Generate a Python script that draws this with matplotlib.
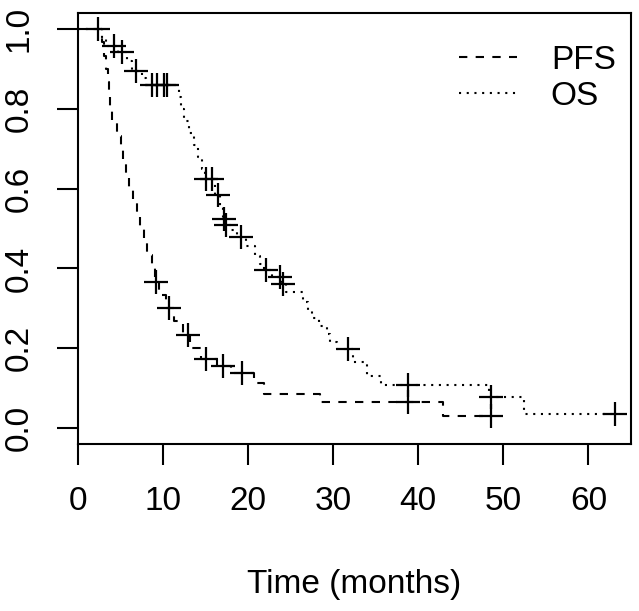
import numpy as np
import matplotlib
matplotlib.use("Agg")
import matplotlib.pyplot as plt

plt.rcParams['font.family'] = ['Liberation Sans', 'DejaVu Sans']

# ---- data ----
pfs_event_times = [2.8, 3.1, 3.3, 3.5, 3.6, 3.8, 4.0, 4.6, 5.0, 5.3, 5.6, 6.0, 6.5, 6.9,
                   7.3, 7.7, 8.1, 8.7, 9.0, 9.5, 10.3, 11.3, 12.3, 13.2, 14.4, 16.3,
                   18.0, 20.7, 21.9, 28.5, 42.9]
pfs_surv = [0.967, 0.933, 0.90, 0.867, 0.833, 0.80, 0.767, 0.733, 0.70, 0.667, 0.633,
            0.60, 0.567, 0.533, 0.50, 0.467, 0.433, 0.40, 0.367, 0.333, 0.30, 0.267,
            0.233, 0.20, 0.172, 0.155, 0.138, 0.113, 0.086, 0.064, 0.030]
pfs_censor = [9.2, 10.7, 12.9, 15.1, 17.1, 19.3, 38.75, 48.5]

os_event_times = [2.8, 3.3, 4.7, 5.8, 6.3, 7.5, 8.0, 11.9, 12.1, 12.5, 13.1, 13.6, 14.1,
                  14.6, 14.9, 16.1, 16.7, 17.0, 17.3, 18.0, 18.7, 19.8, 20.8, 21.4, 21.9,
                  22.8, 23.9, 24.5, 26.5, 27.0, 27.5, 28.3, 29.3, 29.6, 30.5, 32.3, 34.0,
                  35.6, 48.3, 52.4]
os_surv = [0.978, 0.957, 0.943, 0.92, 0.895, 0.877, 0.86, 0.83, 0.80, 0.77, 0.74, 0.71,
           0.68, 0.65, 0.625, 0.585, 0.555, 0.524, 0.51, 0.495, 0.478, 0.455, 0.43, 0.41,
           0.395, 0.378, 0.36, 0.34, 0.317, 0.295, 0.275, 0.255, 0.235, 0.215, 0.198,
           0.165, 0.13, 0.107, 0.078, 0.036]
os_censor = [2.3, 4.2, 5.2, 6.8, 8.7, 9.3, 10.1, 10.5, 15.0, 15.8, 16.4, 17.2, 17.45,
             19.2, 22.1, 23.7, 24.1, 31.7, 38.75, 48.5, 63.1]

labels = ["PFS", "OS"]
x_ticks = [0, 10, 20, 30, 40, 50, 60]
y_ticks = [0.0, 0.2, 0.4, 0.6, 0.8, 1.0]
x_label = "Time (months)"

W, H = 639, 611
fig = plt.figure(figsize=(W / 100, H / 100), dpi=100)
ax = fig.add_axes([78 / W, 1 - 444 / H, (631 - 78) / W, (444 - 13) / H])

LW = 1.5


def km_curve(times, surv, censor):
    t_end = max(max(times), max(censor))
    t = np.concatenate([[0.0], times, [t_end]])
    s = np.concatenate([[1.0], surv, [surv[-1]]])
    c = np.asarray(censor)
    idx = np.searchsorted(t, c, side='right') - 1
    return t, s, c, s[idx]


styles = [(0, (4, 4)), (0, (1, 2.7))]
handles = []
for (et, sv, cs), ls, lab in zip([(pfs_event_times, pfs_surv, pfs_censor),
                                  (os_event_times, os_surv, os_censor)], styles, labels):
    t, s, c, cy = km_curve(et, sv, cs)
    h, = ax.step(t, s, where='post', color='black', lw=LW, linestyle=ls, label=lab)
    ax.plot(c, cy, linestyle='none', marker='+', markersize=17, mew=1.6, color='black')
    handles.append(h)

ax.set_xlim(0, 65)
ax.set_ylim(-0.04, 1.04)
ax.set_xticks(x_ticks)
ax.set_yticks(y_ticks)
ax.set_xticklabels([str(v) for v in x_ticks])
ax.set_yticklabels([f"{v:.1f}" for v in y_ticks], rotation=90, va='center')
ax.tick_params(axis='both', labelsize=24, length=15, width=1.5, direction='out')
ax.tick_params(axis='x', pad=15)
ax.tick_params(axis='y', pad=16)
for sp in ax.spines.values():
    sp.set_linewidth(1.5)
ax.set_xlabel(x_label, fontsize=24, labelpad=38)

ax.legend(handles=handles, loc='upper right', bbox_to_anchor=(1.0145, 0.981),
          frameon=False, fontsize=24, handlelength=1.75, handletextpad=1.0,
          labelspacing=0.15, borderaxespad=0.3)

fig.savefig("out.png", dpi=100, facecolor='white')
